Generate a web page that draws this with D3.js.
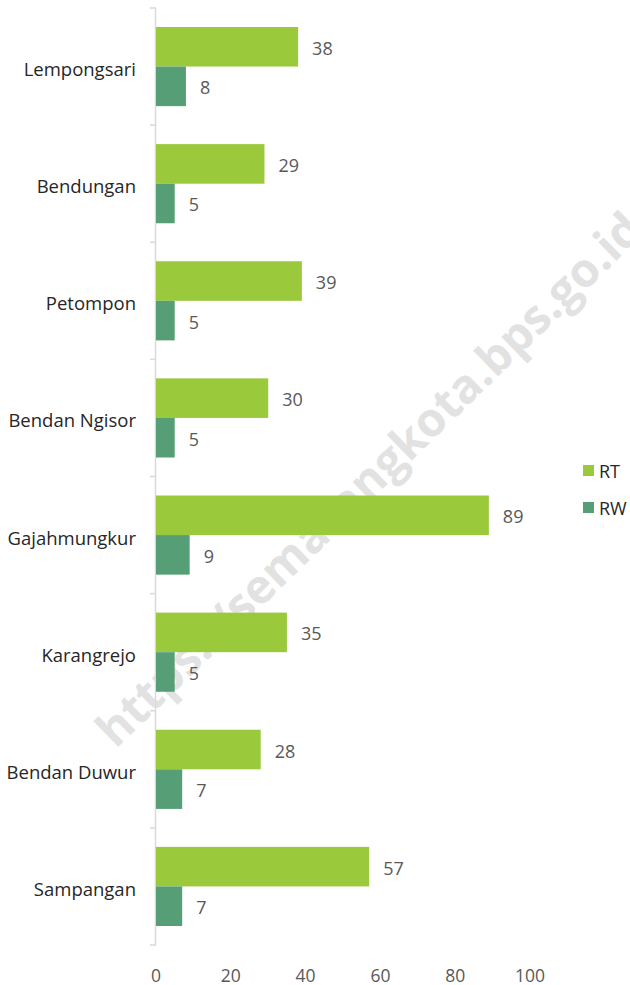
<!DOCTYPE html>
<html>
<head>
<meta charset="utf-8">
<script src="https://cdn.jsdelivr.net/npm/d3@7"></script>
<style>
  body { margin: 0; background: #fff; }
  svg text { font-family: "Open Sans", "Noto Sans", sans-serif; }
</style>
</head>
<body>
<div id="chart"></div>
<script>
var categories = ["Lempongsari", "Bendungan", "Petompon", "Bendan Ngisor", "Gajahmungkur", "Karangrejo", "Bendan Duwur", "Sampangan"];
var seriesNames = ["RT", "RW"];
var rtValues = [38, 29, 39, 30, 89, 35, 28, 57];
var rwValues = [8, 5, 5, 5, 9, 5, 7, 7];
var xTicks = [0, 20, 40, 60, 80, 100];
var colors = ["#9bc93c", "#559e76"];

var width = 630, height = 985;
var margin = { top: 8, left: 156, bottom: 40 };

var svg = d3.select("#chart").append("svg")
    .attr("width", width)
    .attr("height", height);

// watermark behind the bars
svg.append("text")
    .attr("transform", "translate(368,478) rotate(-44.3)")
    .attr("text-anchor", "middle")
    .attr("dominant-baseline", "central")
    .attr("font-size", 47)
    .attr("font-weight", "bold")
    .attr("fill", "#e2e2e2")
    .attr("textLength", 740)
    .attr("lengthAdjust", "spacingAndGlyphs")
    .text("https://semarangkota.bps.go.id");

var x = d3.scaleLinear()
    .domain([0, 100])
    .range([margin.left, 530]);

var y = d3.scaleBand()
    .domain(categories)
    .range([margin.top, 945])
    .paddingInner(0)
    .paddingOuter(0);

var inner = d3.scaleBand()
    .domain(seriesNames)
    .range([0, y.bandwidth()])
    .paddingOuter(0.48)
    .paddingInner(0);

// y axis line and ticks
var axisG = svg.append("g").attr("class", "y-axis");
axisG.append("line")
    .attr("x1", margin.left - 0.5).attr("x2", margin.left - 0.5)
    .attr("y1", y.range()[0]).attr("y2", y.range()[1])
    .attr("stroke", "#d9d9d9").attr("stroke-width", 1.5);
var tickYs = categories.map(function(c) { return y(c); }).concat([y.range()[1]]);
axisG.selectAll(".tick").data(tickYs).enter().append("line")
    .attr("x1", margin.left - 6).attr("x2", margin.left)
    .attr("y1", function(d) { return d; }).attr("y2", function(d) { return d; })
    .attr("stroke", "#d9d9d9").attr("stroke-width", 1.5);

// category labels
svg.selectAll(".cat").data(categories).enter().append("text")
    .attr("class", "cat")
    .attr("x", 136)
    .attr("y", function(d) { return y(d) + y.bandwidth() / 2 + 2; })
    .attr("text-anchor", "end")
    .attr("dominant-baseline", "central")
    .attr("font-size", 18.5)
    .attr("fill", "#262626")
    .text(function(d) { return d; });

// bars
var seriesData = [rtValues, rwValues];
seriesData.forEach(function(vals, s) {
    var name = seriesNames[s];
    svg.selectAll(".bar-" + name).data(vals).enter().append("rect")
        .attr("class", "bar-" + name)
        .attr("x", x(0))
        .attr("y", function(d, i) { return y(categories[i]) + inner(name); })
        .attr("width", function(d) { return x(d) - x(0); })
        .attr("height", inner.bandwidth())
        .attr("fill", colors[s]);

    svg.selectAll(".label-" + name).data(vals).enter().append("text")
        .attr("class", "label-" + name)
        .attr("x", function(d) { return x(d) + 14; })
        .attr("y", function(d, i) { return y(categories[i]) + inner(name) + inner.bandwidth() / 2 + 1; })
        .attr("dominant-baseline", "central")
        .attr("font-size", 18)
        .attr("fill", "#595959")
        .text(function(d) { return d; });
});

// x axis tick labels
svg.selectAll(".xtick").data(xTicks).enter().append("text")
    .attr("class", "xtick")
    .attr("x", function(d) { return x(d); })
    .attr("y", 975)
    .attr("text-anchor", "middle")
    .attr("dominant-baseline", "central")
    .attr("font-size", 17.5)
    .attr("fill", "#595959")
    .text(function(d) { return d; });

// legend
var legend = svg.selectAll(".legend").data(seriesNames).enter().append("g")
    .attr("class", "legend")
    .attr("transform", function(d, i) { return "translate(583," + (465 + i * 37) + ")"; });
legend.append("rect")
    .attr("width", 11).attr("height", 11)
    .attr("fill", function(d, i) { return colors[i]; });
legend.append("text")
    .attr("x", 16).attr("y", 6)
    .attr("dominant-baseline", "central")
    .attr("font-size", 18)
    .attr("fill", "#262626")
    .text(function(d) { return d; });
</script>
</body>
</html>
